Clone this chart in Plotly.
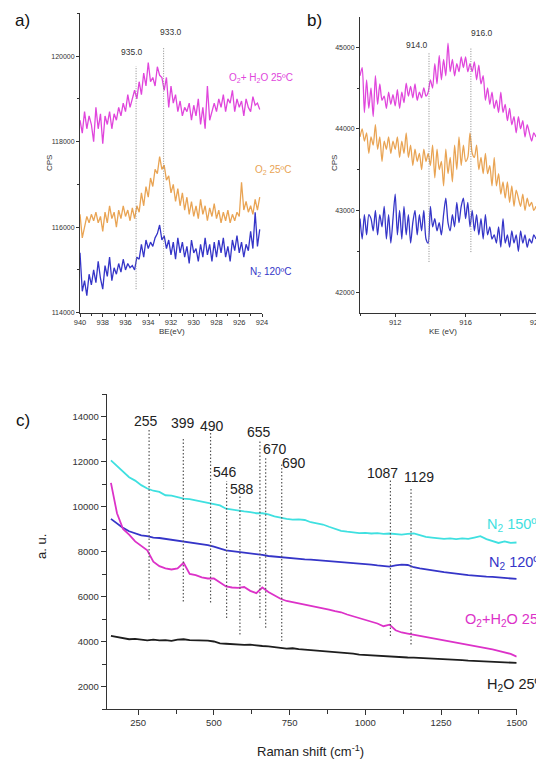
import plotly.graph_objects as go

# ---------------- Panel a: XPS (BE) ----------------
a_start, a_step = 940.0, -0.2
a_o2h2o = [118500, 118200, 118700, 118300, 118600, 118400, 118000, 118800, 118300, 118650,
           117950, 118600, 118400, 118700, 118300, 118650, 118500, 118800, 118600, 118900,
           118700, 119100, 118800, 119000, 119200, 119000, 119400, 119100, 119600, 119300,
           119850, 119400, 119500, 119300, 119750, 119550, 119500, 119200, 119500, 118800,
           119300, 118900, 119100, 118700, 118950, 118600, 118800, 118700, 118900, 118500,
           118850, 118600, 119000, 118400, 118800, 118300, 119300, 118500, 118700, 118900,
           118700, 119000, 118800, 119100, 118700, 119000, 118900, 119200, 118700, 119000,
           118800, 118950, 118600, 119000, 118800, 118700, 119050, 118850, 118900, 118750]
a_o2 = [116300, 115750, 116000, 116250, 116100, 116300, 116150, 116350, 116100, 116250,
        115900, 116350, 116100, 116500, 116200, 116350, 116000, 116400, 116200, 116500,
        116250, 116400, 116150, 116450, 116200, 116500, 116350, 116800, 116500, 116950,
        116700, 117150, 116950, 117350, 117250, 117650, 117350, 117450, 117100, 117200,
        116800, 117000, 116600, 116900, 116500, 116800, 116400, 116700, 116300, 116600,
        116250, 116500, 116200, 116650, 116300, 116500, 116150, 116450, 116250, 116550,
        116200, 116400, 116100, 116350, 116150, 116400, 116100, 116300, 116150, 116350,
        116250, 117050, 116400, 116600, 116350, 116500, 116300, 116650, 116400, 116700]
a_n2 = [115400, 114500, 114750, 114400, 114900, 114650, 115000, 114700, 115200, 114800,
        114550, 115100, 114850, 115300, 114750, 115050, 114900, 115150, 114950, 115250,
        115000, 115150, 115050, 115100, 115000, 115300, 115250, 115600, 115300, 115700,
        115500, 115650, 115550, 115750, 115850, 116050, 115700, 115800, 115500, 115700,
        115350, 115650, 115250, 115750, 115400, 115650, 115300, 115550, 115150, 115700,
        115400, 115500, 115200, 115600, 115300, 115750, 115350, 115600, 115200, 115650,
        115300, 115700, 115400, 115750, 115300, 115550, 115200, 115700, 115450, 115800,
        115400, 115650, 115300, 115600, 115450, 115900, 115500, 116350, 115550, 115950]
a_peak_x = [935.07, 932.65]
a_peak_bottom = [114550, 114550]
a_peak_top = [119760, 120220]
a_peak_labels = ["935.0", "933.0"]

# ---------------- Panel b: Auger (KE) ----------------
b_start, b_step = 910.0, 0.125
b_o2h2o = [44650, 44750, 44200, 44600, 44250, 44500, 44150, 44650, 44300, 44550,
           44350, 44400, 44250, 44450, 44300, 44420, 44280, 44480, 44250, 44450,
           44320, 44560, 44400, 44520, 44380, 44550, 44350, 44450, 44380, 44500,
           44400, 44450, 44600, 44500, 44800, 44550, 44900, 44600, 44850, 44650,
           45050, 44700, 44850, 44650, 44800, 44700, 44880, 44750, 44880, 44700,
           44800, 44700, 44820, 44600, 44780, 44550, 44650, 44350, 44500, 44300,
           44450, 44250, 44350, 44200, 44450, 44200, 44300, 44100, 44250, 44050,
           44150, 43950, 44150, 44000, 44100, 43900, 44050, 43950, 43850, 43950, 43900]
b_o2 = [43900, 44000, 43850, 43950, 43700, 43900, 43800, 44050, 43750, 43900,
        43600, 43850, 43750, 43900, 43700, 43850, 43750, 43900, 43650, 43850,
        43700, 43950, 43650, 43800, 43550, 43750, 43600, 43700, 43500, 43750,
        43600, 43700, 43550, 43800, 43400, 43750, 43500, 43600, 43300, 43750,
        43450, 43650, 43350, 43800, 43500, 43900, 43550, 43800, 43600, 43650,
        43950, 43700, 43650, 43800, 43500, 43650, 43450, 43700, 43450, 43550,
        43300, 43650, 43300, 43450, 43200, 43350, 43150, 43350, 43100, 43300,
        43050, 43250, 43150, 43050, 43200, 43000, 43150, 43050, 43100, 43000, 43050]
b_n2 = [42900, 42650, 42950, 42700, 42950, 42900, 42750, 43000, 42700, 42950,
        42800, 43050, 42650, 42950, 42600, 42900, 43200, 42700, 43000, 42650,
        43050, 42700, 42950, 42600, 42850, 43000, 42700, 42950, 42750, 43000,
        42650, 42600, 43050, 42800, 42900, 42750, 42850, 42700, 42950, 43150,
        42850, 42750, 42950, 42800, 43100, 42850, 43050, 43150, 42900, 43100,
        42800, 43000, 42750, 42950, 42700, 42900, 42650, 42950, 42700, 42800,
        42650, 42700, 42600, 42800, 42550, 42900, 42600, 42700, 42550, 42750,
        42600, 42700, 42500, 42750, 42600, 42700, 42550, 42650, 42600, 42700, 42650]
b_peak_x = [913.92, 916.3]
b_peak_bottom = [42370, 42490]
b_peak_top = [44930, 45000]
b_peak_labels = ["914.0", "916.0"]

# ---------------- Panel c: Raman ----------------
c_x = [160, 180, 200, 220, 240, 260, 280, 300, 320, 340, 360, 380, 400, 420, 440, 460, 480,
       500, 520, 540, 560, 580, 600, 620, 640, 660, 680, 700, 720, 740, 760, 780, 800, 820,
       840, 860, 880, 900, 920, 940, 960, 980, 1000, 1020, 1040, 1060, 1080, 1100, 1120,
       1140, 1160, 1180, 1200, 1220, 1240, 1260, 1280, 1300, 1320, 1340, 1360, 1380, 1400,
       1420, 1440, 1460, 1480, 1500]
c_n2_150 = [12050, 11800, 11550, 11300, 11150, 10950, 10800, 10700, 10650, 10500, 10480, 10400,
            10350, 10330, 10280, 10200, 10180, 10100, 10050, 9900, 9850, 9820, 9780, 9750, 9700,
            9700, 9650, 9560, 9500, 9450, 9420, 9430, 9400, 9300, 9250, 9200, 9100, 9000, 8920,
            8880, 8850, 8820, 8830, 8800, 8820, 8780, 8800, 8780, 8750, 8780, 8800, 8730, 8650,
            8620, 8600, 8560, 8580, 8550, 8580, 8560, 8620, 8680, 8550, 8450, 8380, 8450, 8380, 8400]
c_n2_120 = [9450, 9250, 9050, 8900, 8800, 8720, 8680, 8620, 8600, 8560, 8520, 8480, 8450, 8420,
            8380, 8320, 8280, 8220, 8150, 8050, 8020, 7990, 7950, 7900, 7870, 7850, 7800, 7770,
            7740, 7720, 7700, 7680, 7650, 7640, 7620, 7600, 7570, 7550, 7520, 7500, 7480, 7460,
            7440, 7420, 7380, 7350, 7330, 7380, 7420, 7400, 7300, 7250, 7200, 7150, 7120, 7080,
            7050, 7000, 6980, 6950, 6920, 6900, 6880, 6870, 6850, 6830, 6820, 6780]
c_o2h2o = [11050, 9700, 9000, 8750, 8450, 8250, 8050, 7550, 7350, 7250, 7200, 7250, 7500, 7000,
           6950, 6850, 6800, 6800, 6620, 6450, 6400, 6380, 6420, 6250, 6150, 6400, 6200, 6050,
           5900, 5800, 5750, 5700, 5650, 5600, 5550, 5500, 5420, 5350, 5300, 5200, 5120, 5050,
           4980, 4900, 4800, 4680, 4750, 4500, 4400, 4350, 4300, 4250, 4200, 4150, 4100, 4050,
           4000, 3950, 3900, 3850, 3800, 3780, 3720, 3650, 3580, 3520, 3450, 3330]
c_h2o = [4250, 4200, 4150, 4100, 4120, 4080, 4050, 4080, 4050, 4060, 4030, 4080, 4100, 4060,
         4050, 4070, 4040, 4000, 3920, 3900, 3880, 3870, 3850, 3860, 3820, 3800, 3780, 3760,
         3720, 3680, 3700, 3660, 3640, 3620, 3600, 3580, 3560, 3540, 3520, 3500, 3460, 3420,
         3400, 3380, 3360, 3340, 3330, 3320, 3300, 3290, 3280, 3270, 3260, 3250, 3230, 3220,
         3200, 3180, 3170, 3150, 3140, 3120, 3100, 3090, 3080, 3070, 3060, 3050]
c_peak_x = [286, 399, 489, 542, 586, 652, 671, 724, 1083, 1151]
c_peak_bottom = [5870, 5780, 5730, 5050, 4310, 5050, 4610, 4020, 4240, 3870]
c_peak_top = [13420, 13070, 13270, 11130, 10460, 12900, 12160, 11870, 11200, 10830]
c_peak_labels = ["255", "399", "490", "546", "588", "655", "670", "690", "1087", "1129"]

MAG = "#E046DC"
ORA = "#E9A454"
BLU = "#3535C8"
CYA = "#3FE0E0"
MAG_C = "#DC32C8"
BLK = "#1E1E1E"
AX = "#333333"
FONT = "Liberation Sans, Arial, sans-serif"

W, H = 536, 759


def px(x):
    return x / W


def py(y):
    return 1 - y / H


fig = go.Figure()

a_x = [a_start + a_step * i for i in range(len(a_o2h2o))]
b_x = [b_start + b_step * i for i in range(len(b_o2h2o))]

for ys, col in [(a_o2h2o, MAG), (a_o2, ORA), (a_n2, BLU)]:
    fig.add_trace(go.Scatter(x=a_x, y=ys, mode="lines", line=dict(color=col, width=1.3),
                             xaxis="x", yaxis="y", showlegend=False, hoverinfo="skip"))
for xp, yb, yt in zip(a_peak_x, a_peak_bottom, a_peak_top):
    fig.add_trace(go.Scatter(x=[xp, xp], y=[yb, yt], mode="lines",
                             line=dict(color="#888888", width=1, dash="1px,1.5px"),
                             xaxis="x", yaxis="y", showlegend=False, hoverinfo="skip"))

for ys, col in [(b_o2h2o, MAG), (b_o2, ORA), (b_n2, BLU)]:
    fig.add_trace(go.Scatter(x=b_x, y=ys, mode="lines",
                             line=dict(color=col, width=1.3, shape="spline", smoothing=0.7),
                             xaxis="x2", yaxis="y2", showlegend=False, hoverinfo="skip"))
for xp, yb, yt in zip(b_peak_x, b_peak_bottom, b_peak_top):
    fig.add_trace(go.Scatter(x=[xp, xp], y=[yb, yt], mode="lines",
                             line=dict(color="#888888", width=1, dash="1px,1.5px"),
                             xaxis="x2", yaxis="y2", showlegend=False, hoverinfo="skip"))

for ys, col in [(c_n2_150, CYA), (c_n2_120, BLU), (c_o2h2o, MAG_C), (c_h2o, BLK)]:
    fig.add_trace(go.Scatter(x=c_x, y=ys, mode="lines", line=dict(color=col, width=1.8),
                             xaxis="x3", yaxis="y3", showlegend=False, hoverinfo="skip"))
for xp, yb, yt in zip(c_peak_x, c_peak_bottom, c_peak_top):
    fig.add_trace(go.Scatter(x=[xp, xp], y=[yb, yt], mode="lines",
                             line=dict(color="#555555", width=1.2, dash="1.5px,2px"),
                             xaxis="x3", yaxis="y3", showlegend=False, hoverinfo="skip"))


def axis(domain, rng, dtick, tick0, minor, fsize, anchor, ticklen=3, **kw):
    d = dict(domain=domain, range=rng, dtick=dtick, tick0=tick0, anchor=anchor,
             automargin=False,
             showline=True, linecolor=AX, linewidth=1, ticks="outside", ticklen=ticklen,
             tickcolor=AX, tickwidth=1, showgrid=False, zeroline=False,
             tickfont=dict(family=FONT, size=fsize, color="#333333"),
             minor=dict(dtick=minor, ticks="outside", ticklen=ticklen - 1, tickcolor=AX,
                        showgrid=False))
    d.update(kw)
    return d


fig.update_layout(
    template="none",
    width=W, height=H, margin=dict(l=0, r=0, t=0, b=0, autoexpand=False),
    paper_bgcolor="white", plot_bgcolor="white",
    xaxis=axis([px(80), px(262)], [940, 924], 2, 0, 1, 7.5, "y", tickformat="d",
               ticklabelstandoff=-1),
    yaxis=axis([py(312.7), py(13.3)], [114000, 121000], 2000, 0, 1000, 7, "x",
               tickformat="d"),
    xaxis2=axis([px(360), 1.0], [910, 920], 4, 0, 2, 7.5, "y2", tickformat="d",
                ticklabeloverflow="allow", ticklabelstandoff=-1),
    yaxis2=axis([py(313.3), py(17)], [41740, 45370], 1000, 0, 500, 7, "x2",
                tickformat="d"),
    xaxis3=axis([px(106.7), px(516.7)], [146, 1500], 250, 0, 125, 9.5, "y3", ticklen=5,
                tickformat="d"),
    yaxis3=axis([py(709), py(394)], [1000, 15000], 2000, 0, 1000, 9.5, "x3", ticklen=5,
                tickformat="d"),
)

ann = []


def text(x, y, s, size, color="#333333", xanchor="center", angle=0):
    ann.append(dict(x=px(x), y=py(y), xref="paper", yref="paper", text=s, showarrow=False,
                    xanchor=xanchor, yanchor="middle", textangle=angle,
                    font=dict(family=FONT, size=size, color=color)))


# panel letters
text(22, 21, "a)", 17, "#111111")
text(314, 21, "b)", 17, "#111111")
text(23, 420, "c)", 17, "#111111")

# panel a
for lbl, (xx, yy) in zip(a_peak_labels, [(131.7, 52.3), (171, 32.3)]):
    text(xx, yy, lbl, 8.5)
text(227, 78, "O<sub>2</sub>+ H<sub>2</sub>O 25ºC", 10, MAG, "left")
text(253, 170, "O<sub>2</sub> 25ºC", 10, ORA, "left")
text(248, 272, "N<sub>2</sub> 120ºC", 10, BLU, "left")
text(50, 163, "CPS", 8, angle=-90)
text(172, 331, "BE(eV)", 8)

# panel b
for lbl, (xx, yy) in zip(b_peak_labels, [(416.7, 45), (481.7, 32.7)]):
    text(xx, yy, lbl, 8.5)
text(335, 163, "CPS", 8, angle=-90)
text(443, 331, "KE (eV)", 8)

# panel c
c_lbl_pos = [(146, 421), (182.7, 423.3), (211.7, 426), (225, 471.7), (241.7, 489.3),
             (259.3, 431.7), (275, 449.3), (294.3, 463), (382, 472.7), (418.5, 477.3)]
for lbl, (xx, yy) in zip(c_peak_labels, c_lbl_pos):
    text(xx, yy, lbl, 14, "#222222")
text(485, 525, "N<sub>2</sub> 150ºC", 14.5, CYA, "left")
text(486.7, 563, "N<sub>2</sub> 120ºC", 14.5, BLU, "left")
text(463, 620, "O<sub>2</sub>+H<sub>2</sub>O 25ºC", 14.5, MAG_C, "left")
text(485, 685, "H<sub>2</sub>O 25ºC", 14.5, "#222222", "left")
text(41, 547, "a. u.", 13, "#222222", angle=-90)
text(310, 751, "Raman shift (cm<sup>-1</sup>)", 13, "#222222")

fig.update_layout(annotations=ann)
fig.write_html("out.html")
